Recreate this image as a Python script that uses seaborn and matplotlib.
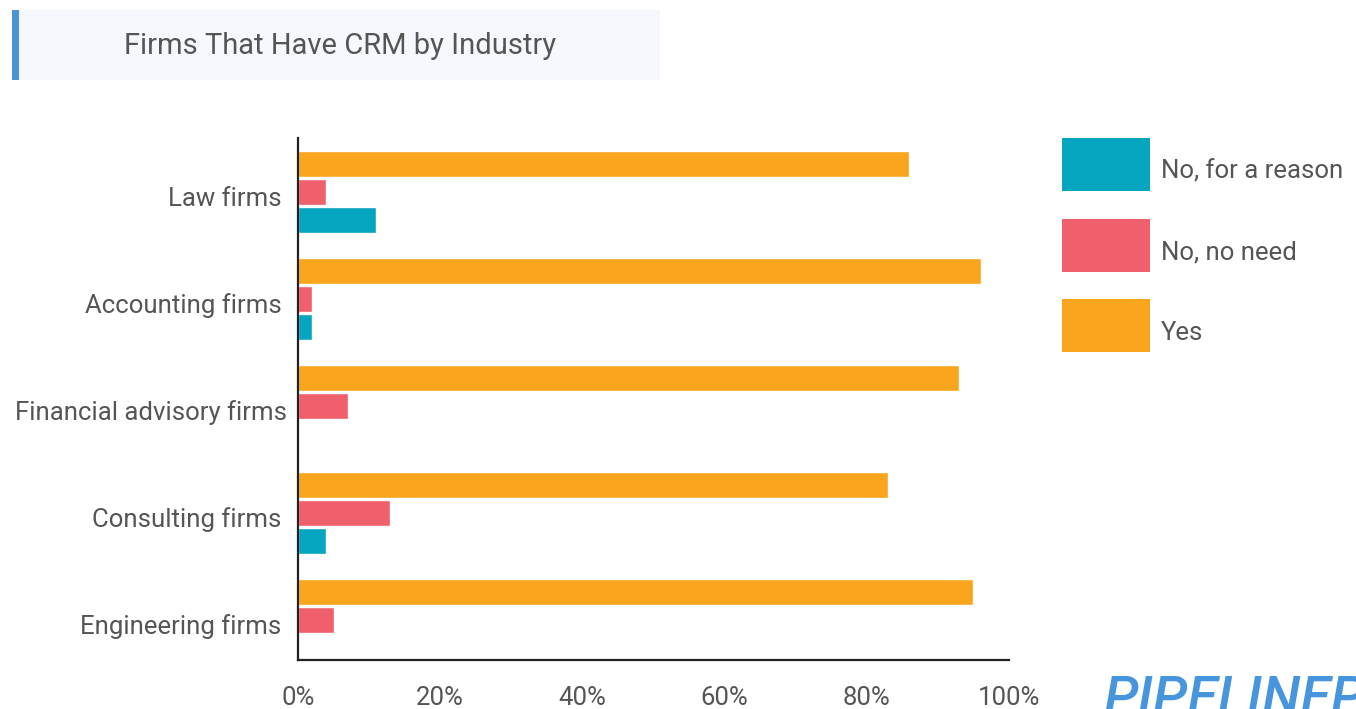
import matplotlib
matplotlib.use("Agg")
import matplotlib.pyplot as plt
from matplotlib.patches import Patch, Rectangle
from matplotlib.legend_handler import HandlerPatch
from matplotlib.transforms import ScaledTranslation
import pandas as pd
import seaborn as sns

industries = ["Law firms", "Accounting firms", "Financial advisory firms",
              "Consulting firms", "Engineering firms"]
yes = [86, 96, 93, 83, 95]
no_need = [4, 2, 7, 13, 5]
no_reason = [11, 2, 0, 4, 0]

series_names = ["Yes", "No, no need", "No, for a reason"]
series_colors = ["#F9A51D", "#EF5F6C", "#06A5C0"]
x_ticks = [0, 20, 40, 60, 80, 100]
x_tick_labels = ["0%", "20%", "40%", "60%", "80%", "100%"]

df = pd.DataFrame({
    "industry": industries * 3,
    "share": yes + no_need + no_reason,
    "answer": [s for s in series_names for _ in industries],
})

sns.set_theme(style="white")
plt.rcParams["font.family"] = ["Roboto", "DejaVu Sans"]
text_color = "#555555"
label_size = 18.5

W, H = 1356, 709
fig = plt.figure(figsize=(W / 100, H / 100), dpi=100)
fig.patch.set_facecolor("white")

ax = fig.add_axes([298 / W, 1 - 660 / H, (1009 - 298) / W, (660 - 138) / H])
sns.barplot(data=df, y="industry", x="share", hue="answer",
            hue_order=series_names, palette=series_colors,
            order=industries, orient="h", width=0.785, gap=0.07,
            saturation=1, legend=False, ax=ax)

ax.set_axisbelow(True)
ax.set_xlim(0, 100)
ax.set_ylim(4.374, -0.505)
ax.set_xticks(x_ticks)
ax.set_xticklabels(x_tick_labels)
ax.set_xlabel("")
ax.set_ylabel("")
ax.grid(False)
for side in ["top", "right"]:
    ax.spines[side].set_visible(False)
for side in ["left", "bottom"]:
    ax.spines[side].set_color("#222222")
    ax.spines[side].set_linewidth(1.6)
ax.tick_params(axis="x", direction="in", length=9.5, width=1.3, color="#222222",
               labelsize=label_size, labelcolor=text_color, pad=19)
ax.tick_params(axis="y", direction="in", length=13, width=1.3, color="#222222",
               labelsize=label_size, labelcolor=text_color, pad=12)
# category names sit slightly below the middle of their bar group
for lbl in ax.get_yticklabels():
    dx = 6 / 100 if lbl.get_text() == "Financial advisory firms" else 0
    lbl.set_transform(lbl.get_transform()
                      + ScaledTranslation(dx, -4 / 100, fig.dpi_scale_trans))


# legend swatches are raised a little relative to their labels
def raised_box(legend, orig_handle, xdescent, ydescent, width, height, fontsize):
    return Rectangle((-xdescent, -ydescent + 4.7), width, height)


handles = [Patch(facecolor=c, edgecolor="none") for c in series_colors]
fig.legend(handles[::-1], series_names[::-1], loc="upper left",
           bbox_to_anchor=(1062 / W, 1 - 144.5 / H), frameon=False,
           fontsize=label_size, handlelength=3.42, handleheight=2.8,
           handletextpad=0.42, labelspacing=1.07, borderpad=0,
           borderaxespad=0, labelcolor=text_color,
           handler_map={Patch: HandlerPatch(patch_func=raised_box)})

# title banner
fig.patches.append(Rectangle((12 / W, 1 - 80 / H), (660 - 12) / W, 70 / H,
                             transform=fig.transFigure, facecolor="#F5F9FE",
                             edgecolor="none", zorder=0))
fig.patches.append(Rectangle((12 / W, 1 - 80 / H), 7 / W, 70 / H,
                             transform=fig.transFigure, facecolor="#4A95D6",
                             edgecolor="none", zorder=1))
fig.text(340 / W, 1 - 46 / H, "Firms That Have CRM by Industry",
         ha="center", va="center", fontsize=21, color=text_color)

# brand mark in the lower right corner
fig.text(1104 / W, 1 - 716 / H, "PIPELINEPRO", ha="left", va="baseline",
         fontsize=40, fontweight="medium", fontstyle="italic", color="#3D8FDC",
         alpha=0.95)

fig.savefig("out.png", dpi=100)
